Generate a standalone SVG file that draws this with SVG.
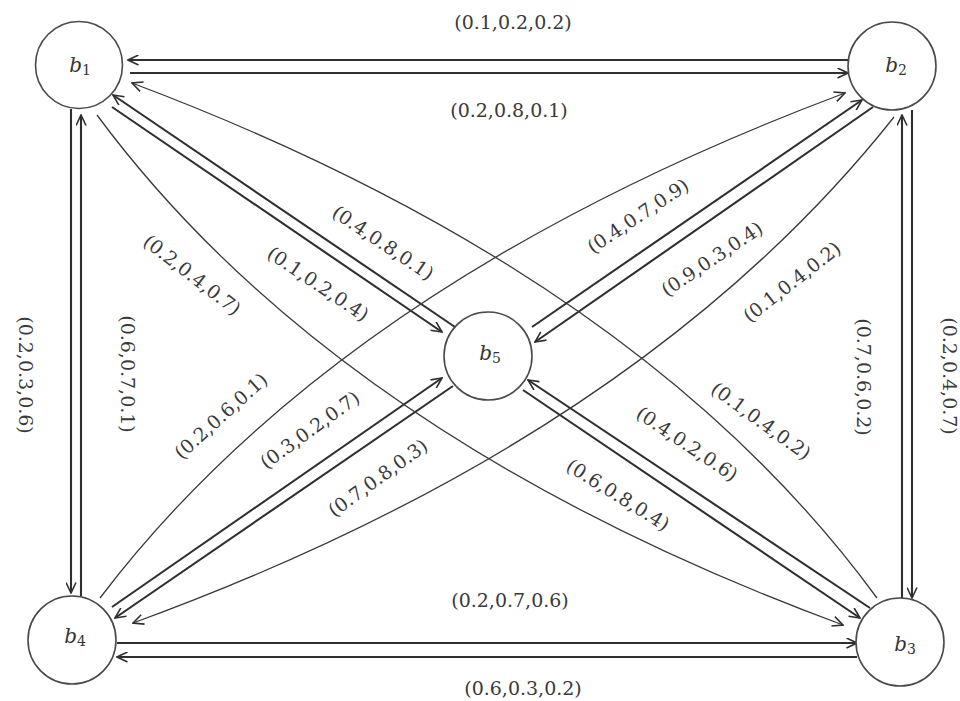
<svg xmlns="http://www.w3.org/2000/svg" width="960" height="701" viewBox="0 0 960 701">
<defs>
<marker id="ah" viewBox="0 0 12 11" refX="11" refY="5.5" markerWidth="12" markerHeight="11" markerUnits="userSpaceOnUse" orient="auto">
<path d="M0.5,0.5 L11,5.5 L0.5,10.5" fill="none" stroke="#2f2f2f" stroke-width="1.6"/>
</marker>
</defs>
<style>
.dbl{stroke:#2f2f2f;stroke-width:2.1;fill:none}
.arc{stroke:#3a3a3a;stroke-width:1.3;fill:none}
.node{fill:#fff;stroke:#4a4a4a;stroke-width:1.6}
.nl{font-family:"DejaVu Serif","Liberation Serif",serif;font-size:20px;fill:#333;text-anchor:middle}
.lb{font-family:"DejaVu Serif","Liberation Serif",serif;font-size:19px;fill:#3a3a3a;text-anchor:middle}
</style>
<rect width="960" height="701" fill="#fff"/>
<g id="connectors">
<line class="dbl" x1="848" y1="60" x2="128" y2="60" marker-end="url(#ah)"/>
<line class="dbl" x1="130" y1="73" x2="848" y2="73" marker-end="url(#ah)"/>
<line class="dbl" x1="71" y1="109" x2="71" y2="593" marker-end="url(#ah)"/>
<line class="dbl" x1="81" y1="596" x2="81" y2="115" marker-end="url(#ah)"/>
<line class="dbl" x1="902" y1="599" x2="902" y2="115" marker-end="url(#ah)"/>
<line class="dbl" x1="912" y1="110" x2="912" y2="598" marker-end="url(#ah)"/>
<line class="dbl" x1="117" y1="643" x2="857" y2="643" marker-end="url(#ah)"/>
<line class="dbl" x1="857" y1="657" x2="117" y2="657" marker-end="url(#ah)"/>
<line class="dbl" x1="455" y1="327" x2="113" y2="95" marker-end="url(#ah)"/>
<line class="dbl" x1="112" y1="107" x2="442" y2="332" marker-end="url(#ah)"/>
<line class="dbl" x1="532" y1="327" x2="862" y2="100" marker-end="url(#ah)"/>
<line class="dbl" x1="873" y1="107" x2="535" y2="342" marker-end="url(#ah)"/>
<line class="dbl" x1="112" y1="607" x2="442" y2="378" marker-end="url(#ah)"/>
<line class="dbl" x1="453" y1="386" x2="115" y2="618" marker-end="url(#ah)"/>
<line class="dbl" x1="870" y1="608" x2="528" y2="380" marker-end="url(#ah)"/>
<line class="dbl" x1="523" y1="390" x2="860" y2="618" marker-end="url(#ah)"/>
<path class="arc" d="M97,115 Q336,438 843,625" marker-end="url(#ah)"/>
<path class="arc" d="M877,598 Q640,274 132,83" marker-end="url(#ah)"/>
<path class="arc" d="M100,598 Q340,282 845,93" marker-end="url(#ah)"/>
<path class="arc" d="M894,117 Q640,438 133,623" marker-end="url(#ah)"/>
</g>
<g id="edge-labels">
<text class="lb" x="513" y="29">(0.1,0.2,0.2)</text>
<text class="lb" x="509" y="117">(0.2,0.8,0.1)</text>
<text class="lb" x="510" y="607">(0.2,0.7,0.6)</text>
<text class="lb" x="523" y="695">(0.6,0.3,0.2)</text>
<text class="lb" transform="translate(25,375) rotate(90)" y="6.5">(0.2,0.3,0.6)</text>
<text class="lb" transform="translate(127,374) rotate(90)" y="6.5">(0.6,0.7,0.1)</text>
<text class="lb" transform="translate(863,377) rotate(90)" y="6.5">(0.7,0.6,0.2)</text>
<text class="lb" transform="translate(949,376) rotate(90)" y="6.5">(0.2,0.4,0.7)</text>
<text class="lb" transform="translate(383,243) rotate(34)" y="6.5">(0.4,0.8,0.1)</text>
<text class="lb" transform="translate(318,284) rotate(34)" y="6.5">(0.1,0.2,0.4)</text>
<text class="lb" transform="translate(192,275) rotate(38)" y="6.5">(0.2,0.4,0.7)</text>
<text class="lb" transform="translate(638,216) rotate(-34)" y="6.5">(0.4,0.7,0.9)</text>
<text class="lb" transform="translate(712,259) rotate(-34)" y="6.5">(0.9,0.3,0.4)</text>
<text class="lb" transform="translate(792,282) rotate(-38)" y="6.5">(0.1,0.4,0.2)</text>
<text class="lb" transform="translate(221,416) rotate(-42)" y="6.5">(0.2,0.6,0.1)</text>
<text class="lb" transform="translate(310,430) rotate(-36)" y="6.5">(0.3,0.2,0.7)</text>
<text class="lb" transform="translate(378,478) rotate(-36)" y="6.5">(0.7,0.8,0.3)</text>
<text class="lb" transform="translate(687,444) rotate(34)" y="6.5">(0.4,0.2,0.6)</text>
<text class="lb" transform="translate(761,421) rotate(36)" y="6.5">(0.1,0.4,0.2)</text>
<text class="lb" transform="translate(618,495) rotate(32)" y="6.5">(0.6,0.8,0.4)</text>
</g>
<g id="b1">
<circle class="node" cx="79" cy="65" r="43.5"/>
<text class="nl" x="80" y="72"><tspan font-style="italic">b</tspan><tspan font-size="14" dy="3">1</tspan></text>
</g>
<g id="b2">
<circle class="node" cx="892" cy="66" r="44"/>
<text class="nl" x="896" y="72"><tspan font-style="italic">b</tspan><tspan font-size="14" dy="3">2</tspan></text>
</g>
<g id="b3">
<circle class="node" cx="900" cy="642" r="44"/>
<text class="nl" x="905" y="651"><tspan font-style="italic">b</tspan><tspan font-size="14" dy="3">3</tspan></text>
</g>
<g id="b4">
<circle class="node" cx="72" cy="640" r="44"/>
<text class="nl" x="75" y="643"><tspan font-style="italic">b</tspan><tspan font-size="14" dy="3">4</tspan></text>
</g>
<g id="b5">
<circle class="node" cx="488" cy="356" r="44"/>
<text class="nl" x="490" y="360"><tspan font-style="italic">b</tspan><tspan font-size="14" dy="3">5</tspan></text>
</g>
</svg>
